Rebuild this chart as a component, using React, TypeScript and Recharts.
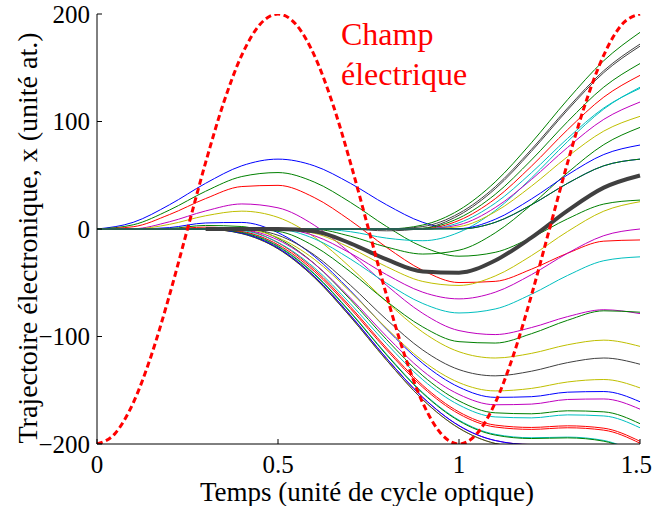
import { LineChart, Line, XAxis, YAxis } from "recharts";

// temps (unité de cycle optique), pas de 0.05 pour le champ
const temps = [
  0, 0.05, 0.1, 0.15, 0.2, 0.25, 0.3, 0.35, 0.4, 0.45, 0.5, 0.55, 0.6, 0.65, 0.7, 0.75,
  0.8, 0.85, 0.9, 0.95, 1, 1.05, 1.1, 1.15, 1.2, 1.25, 1.3, 1.35, 1.4, 1.45, 1.5,
];

const champ = [
  -200, -190.2, -161.8, -117.6, -61.8, 0, 61.8, 117.6, 161.8, 190.2, 200, 190.2, 161.8, 117.6, 61.8, 0,
  -61.8, -117.6, -161.8, -190.2, -200, -190.2, -161.8, -117.6, -61.8, 0, 61.8, 117.6, 161.8, 190.2, 200,
];

// trajectoires lues tous les 0.1 cycle (t = 0 ... 1.5), nommées par l'instant d'ionisation
const x000 = [0, 6.2, 22.5, 42.5, 58.8, 65, 58.8, 42.5, 22.5, 6.2, 0, 6.2, 22.5, 42.5, 58.8, 65];
const x002 = [0, 3.9, 17.6, 35.1, 48.8, 52.5, 43.7, 24.8, 2.3, -16.6, -25.3, -21.7, -8.0, 9.5, 23.2, 26.9];
const x004 = [0, 2.1, 13.4, 28.3, 39.5, 40.6, 29.3, 7.9, -17.1, -38.5, -49.8, -48.7, -37.4, -22.5, -11.3, -10.2];
const x008 = [0, 0.2, 6.7, 16.8, 23.3, 19.7, 3.6, -22.5, -52.4, -78.5, -94.5, -98.2, -91.7, -81.5, -75.1, -78.7];
const x010 = [0, 0, 4.3, 12.3, 16.6, 10.8, -7.4, -35.7, -67.7, -96.0, -114.2, -120.0, -115.7, -107.7, -103.4, -109.2];
const x014 = [0, 0, 1.3, 5.6, 6.1, -3.4, -25.3, -57.4, -93.1, -125.1, -147.1, -156.6, -156.0, -151.8, -151.2, -160.7];
const x016 = [0, 0, 0.5, 3.3, 2.3, -8.7, -32.1, -65.7, -102.9, -136.5, -159.9, -171.0, -171.9, -169.1, -170.1, -181.1];
const x018 = [0, 0, 0.2, 1.7, -0.5, -12.8, -37.5, -72.2, -110.7, -145.5, -170.2, -182.4, -184.6, -183.1, -185.3, -197.5];
const x020 = [0, 0, 0, 0.6, -2.5, -15.7, -41.3, -77.1, -116.5, -152.2, -177.8, -191.0, -194.2, -193.6, -196.7, -209.9];
const x022 = [0, 0, 0, 0, -3.7, -17.6, -43.8, -80.2, -120.3, -156.6, -182.9, -196.7, -200.5, -200.6, -204.3, -218.2];
const x024 = [0, 0, 0, -0.2, -4.3, -18.4, -45.0, -81.7, -122.1, -158.8, -185.3, -199.5, -203.6, -204.0, -208.1, -222.2];
const x026 = [0, 0, 0, -0.2, -4.3, -18.4, -45.0, -81.7, -122.1, -158.8, -185.3, -199.5, -203.6, -204.0, -208.1, -222.2];
const x028 = [0, 0, 0, -0.1, -3.9, -17.7, -44.0, -80.3, -120.4, -156.7, -183.0, -196.8, -200.6, -200.7, -204.4, -218.3];
const x030 = [0, 0, 0, 0, -3.2, -16.4, -42.0, -77.7, -117.2, -152.9, -178.5, -191.7, -194.9, -194.3, -197.4, -210.6];
const x032 = [0, 0, 0, 0, -2.3, -14.6, -39.3, -74.0, -112.5, -147.3, -172.0, -184.2, -186.4, -184.9, -187.1, -199.3];
const x034 = [0, 0, 0, 0, -1.5, -12.5, -35.9, -69.5, -106.7, -140.3, -163.7, -174.8, -175.7, -172.9, -173.9, -184.9];
const x036 = [0, 0, 0, 0, -0.7, -10.2, -32.2, -64.2, -99.9, -132.0, -153.9, -163.5, -162.9, -158.6, -158.1, -167.6];
const x038 = [0, 0, 0, 0, -0.2, -8.0, -28.1, -58.4, -92.4, -122.7, -142.9, -150.6, -148.3, -142.3, -140.0, -147.8];
const x040 = [0, 0, 0, 0, 0, -5.8, -24.0, -52.3, -84.3, -112.6, -130.8, -136.6, -132.3, -124.3, -120.0, -125.8];
const x044 = [0, 0, 0, 0, 0, -2.2, -16.0, -39.8, -67.3, -91.1, -104.8, -106.1, -97.4, -84.9, -76.1, -77.4];
const x048 = [0, 0, 0, 0, 0, -0.3, -9.0, -27.9, -50.4, -69.3, -78.1, -74.4, -60.7, -43.2, -29.5, -25.9];
const x050 = [0, 0, 0, 0, 0, 0, -6.2, -22.5, -42.5, -58.8, -65, -58.8, -42.5, -22.5, -6.2, 0];
const x052 = [0, 0, 0, 0, 0, 0, -3.9, -17.6, -35.1, -48.8, -52.5, -43.7, -24.8, -2.3, 16.6, 25.4];
const x054 = [null, null, null, 0, 0, 0, -2.1, -13.3, -28.3, -39.5, -40.6, -29.3, -8.0, 17.1, 38.5, 49.8];
const x058 = [0, 0, 0, 0, 0, 0, -0.2, -6.7, -16.8, -23.3, -19.7, -3.6, 22.5, 52.4, 78.5, 94.5];
const x062 = [0, 0, 0, 0, 0, 0, 0, -2.5, -8.5, -10.9, -3.1, 17.1, 47.4, 81.4, 111.6, 131.9];
const x068 = [0, 0, 0, 0, 0, 0, 0, -0.2, -1.7, 0.5, 12.8, 37.4, 72.2, 110.7, 145.5, 170.1];
const x072 = [0, 0, 0, 0, 0, 0, 0, 0, 0, 3.7, 17.6, 43.8, 80.2, 120.3, 156.6, 182.9];
const x082 = [0, 0, 0, 0, 0, 0, 0, 0, 0, 2.3, 14.6, 39.2, 74.0, 112.5, 147.3, 172.0];
const x086 = [0, 0, 0, 0, 0, 0, 0, 0, 0, 0.7, 10.2, 32.2, 64.2, 99.9, 132.0, 153.9];
const x088 = [0, 0, 0, 0, 0, 0, 0, 0, 0, 0.2, 8.0, 28.1, 58.4, 92.4, 122.7, 142.9];
const x090 = [0, 0, 0, 0, 0, 0, 0, 0, 0, 0, 5.8, 24.0, 52.3, 84.3, 112.6, 130.8];
const x092 = [0, 0, 0, 0, 0, 0, 0, 0, 0, 0, 3.9, 19.9, 46.0, 75.9, 102.0, 118.1];
const x094 = [0, 0, 0, 0, 0, 0, 0, 0, 0, 0, 2.2, 16.0, 39.8, 67.3, 91.1, 104.8];
const x098 = [0, 0, 0, 0, 0, 0, 0, 0, 0, 0, 0.3, 9.0, 27.9, 50.4, 69.3, 78.1];
const x100 = [0, 0, 0, 0, 0, 0, 0, 0, 0, 0, 0, 6.2, 22.5, 42.5, 58.8, 65];

const yTicks = [-200, -100, 0, 100, 200];
const xTicks = [0, 0.5, 1, 1.5];

// couleurs façon Matlab
const B = "#0000ff";
const G = "#008000";
const R = "#ff0000";
const C = "#00bfbf";
const M = "#bf00bf";
const Y = "#bfbf00";
const K = "#404040";

const series: [string, (number | null)[], string][] = [
  ["x000", x000, B], ["x002", x002, G], ["x004", x004, R], ["x008", x008, M],
  ["x010", x010, Y], ["x014", x014, B], ["x016", x016, G], ["x018", x018, R],
  ["x020", x020, C], ["x022", x022, M], ["x024", x024, Y], ["x026", x026, K],
  ["x028", x028, B], ["x030", x030, G], ["x032", x032, R], ["x034", x034, C],
  ["x036", x036, M], ["x038", x038, Y], ["x040", x040, K], ["x044", x044, G],
  ["x048", x048, C], ["x050", x050, M], ["x052", x052, Y], ["x058", x058, G],
  ["x062", x062, C], ["x068", x068, K], ["x072", x072, G], ["x082", x082, K],
  ["x086", x086, G], ["x088", x088, R], ["x090", x090, C], ["x092", x092, M],
  ["x094", x094, Y], ["x098", x098, B], ["x100", x100, G],
];

const rows = temps.map((t, i) => {
  const row: Record<string, number | null> = { t, champ: champ[i] };
  if (i % 2 === 0) {
    series.forEach(([key, values]) => {
      row[key] = values[i / 2];
    });
    row.x054 = x054[i / 2];
  }
  return row;
});

const serif = "Liberation Serif";
const tickStyle = { fontSize: 25, fill: "#000", fontFamily: serif, style: { fontFamily: serif } };
const formatY = (v: number) => (v < 0 ? `\u2212${-v}` : `${v}`);

export default function App() {
  return (
    <div
      style={{
        position: "absolute",
        left: 0,
        top: 0,
        width: 652,
        height: 506,
        background: "#fff",
        fontFamily: serif,
      }}
    >
      <LineChart
        width={652}
        height={506}
        data={rows}
        margin={{ top: 14, right: 12, bottom: 0, left: 0 }}
        style={{ fontFamily: serif }}
      >
        <XAxis
          xAxisId="bas"
          dataKey="t"
          type="number"
          domain={[0, 1.5]}
          ticks={xTicks}
          height={62}
          tickSize={-5}
          tickMargin={16}
          tick={tickStyle}
          axisLine={{ stroke: "#000" }}
          tickLine={{ stroke: "#000" }}
        />
        <XAxis
          xAxisId="haut"
          orientation="top"
          dataKey="t"
          type="number"
          domain={[0, 1.5]}
          ticks={xTicks}
          height={0}
          tickSize={-5}
          tickFormatter={() => ""}
          axisLine={{ stroke: "#000" }}
          tickLine={{ stroke: "#000" }}
        />
        <YAxis
          yAxisId="gauche"
          type="number"
          domain={[-200, 200]}
          ticks={yTicks}
          interval={0}
          allowDataOverflow
          width={97}
          tickSize={-5}
          tickMargin={12}
          tick={tickStyle}
          tickFormatter={formatY}
          axisLine={{ stroke: "#000" }}
          tickLine={{ stroke: "#000" }}
        />
        <YAxis
          yAxisId="droite"
          orientation="right"
          type="number"
          domain={[-200, 200]}
          ticks={yTicks}
          interval={0}
          allowDataOverflow
          width={0}
          tickSize={-5}
          tickFormatter={() => ""}
          axisLine={{ stroke: "#000" }}
          tickLine={{ stroke: "#000" }}
        />
        {series.map(([key, , color]) => (
          <Line
            key={key}
            xAxisId="bas"
            yAxisId="gauche"
            type="monotone"
            dataKey={key}
            stroke={color}
            strokeWidth={1}
            dot={false}
            activeDot={false}
            connectNulls
            isAnimationActive={false}
          />
        ))}
        <Line
          xAxisId="bas"
          yAxisId="gauche"
          type="monotone"
          dataKey="x054"
          stroke={K}
          strokeWidth={4}
          dot={false}
          activeDot={false}
          connectNulls
          isAnimationActive={false}
        />
        <Line
          xAxisId="haut"
          yAxisId="droite"
          type="monotone"
          dataKey="champ"
          stroke={R}
          strokeWidth={3}
          strokeDasharray="6 3.5"
          dot={false}
          activeDot={false}
          isAnimationActive={false}
        />
      </LineChart>
      <div
        style={{
          position: "absolute",
          left: 341,
          top: 14,
          fontFamily: serif,
          fontSize: 32,
          lineHeight: "40px",
          color: R,
          whiteSpace: "pre",
        }}
      >
        {"Champ\nélectrique"}
      </div>
      <div
        style={{
          position: "absolute",
          left: 167,
          top: 482,
          width: 400,
          textAlign: "center",
          fontFamily: serif,
          fontSize: 27,
          lineHeight: "20px",
          color: "#000",
          whiteSpace: "nowrap",
        }}
      >
        Temps (unité de cycle optique)
      </div>
      <div
        style={{
          position: "absolute",
          left: 28 - 230,
          top: 238 - 14,
          width: 460,
          height: 28,
          textAlign: "center",
          fontFamily: serif,
          fontSize: 28,
          lineHeight: "28px",
          color: "#000",
          whiteSpace: "nowrap",
          transform: "rotate(-90deg)",
        }}
      >
        Trajectoire électronique, x (unité at.)
      </div>
    </div>
  );
}
